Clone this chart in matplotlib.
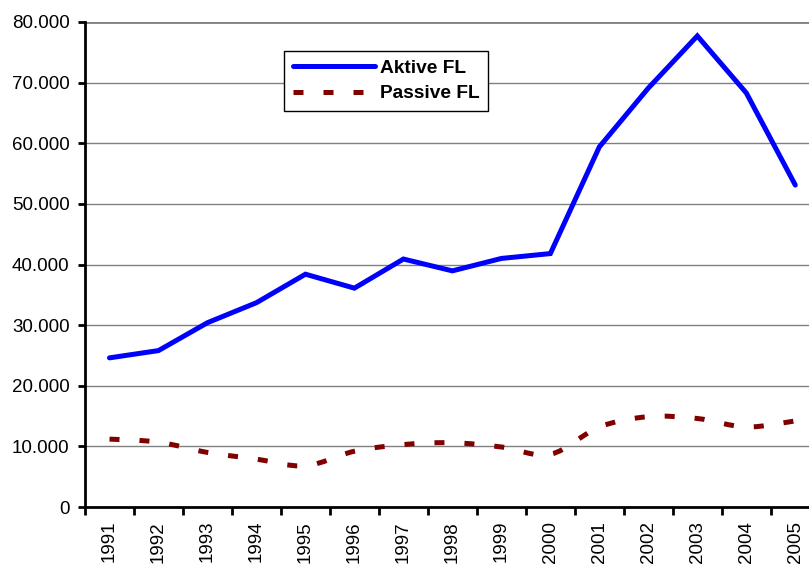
"""Aktive und passive FL, 1991-2005."""
import numpy as np
import matplotlib
matplotlib.use('Agg')
import matplotlib.pyplot as plt
from matplotlib.path import Path
from matplotlib.patches import PathPatch
from matplotlib.lines import Line2D
from matplotlib.ticker import FuncFormatter, FixedLocator


years = ['1991', '1992', '1993', '1994', '1995', '1996', '1997', '1998',
         '1999', '2000', '2001', '2002', '2003', '2004', '2005']
aktive = [24600, 25800, 30400, 33700, 38400, 36100, 40900, 38950,
          41000, 41800, 59400, 69100, 77700, 68300, 53100]
passive = [11200, 10700, 9000, 7900, 6800, 9200, 10300, 10600,
           9900, 8700, 13200, 14900, 14600, 13200, 14200]


def smooth_path(xs, ys):
    """Bezier path through the points, like Excel's smoothed line."""
    pts = np.column_stack([xs, ys]).astype(float)
    n = len(pts)
    verts = [pts[0]]
    codes = [Path.MOVETO]
    for i in range(n - 1):
        p0 = pts[max(i - 1, 0)]
        p1 = pts[i]
        p2 = pts[i + 1]
        p3 = pts[min(i + 2, n - 1)]
        verts += [p1 + (p2 - p0) / 6, p2 - (p3 - p1) / 6, p2]
        codes += [Path.CURVE4] * 3
    return Path(verts, codes)


plt.rcParams['font.family'] = ['Liberation Sans', 'DejaVu Sans']

fig = plt.figure(figsize=(8.09, 5.66), dpi=100)
ax = fig.add_axes([85 / 809, 1 - 507 / 566, 724 / 809, 485 / 566])

x = np.arange(len(years))
blue = '#0000FF'
red = '#800000'
lw = 3.6
fs = 13.5

line_a, = ax.plot(x, aktive, color=blue, lw=lw, solid_joinstyle='miter',
                  solid_capstyle='round', label='Aktive FL', zorder=3)
patch = PathPatch(smooth_path(x, passive), fill=False, edgecolor=red, lw=lw,
                  linestyle=(0, (2, 4)), capstyle='butt', zorder=3)
ax.add_patch(patch)
proxy_p = Line2D([], [], color=red, lw=lw, linestyle=(0, (2, 4)),
                 dash_capstyle='butt', label='Passive FL')

ax.set_xlim(-0.5, 14.28)
ax.set_ylim(0, 80000)
ax.set_yticks(np.arange(0, 80001, 10000))
ax.yaxis.set_major_formatter(
    FuncFormatter(lambda v, p: '{:,.0f}'.format(v).replace(',', '.')))
ax.grid(axis='y', color='#808080', lw=1.0)
ax.set_axisbelow(True)

# ticks between categories, labels at centres
ax.xaxis.set_major_locator(FixedLocator(np.arange(-0.5, 15, 1.0)))
ax.xaxis.set_minor_locator(FixedLocator(x))
ax.set_xticklabels([], minor=False)
ax.set_xticklabels(years, minor=True, rotation=90, fontsize=fs)
ax.tick_params(axis='x', which='major', length=5.5, width=2, direction='out')
ax.tick_params(axis='x', which='minor', length=0, pad=10)
ax.tick_params(axis='y', length=5, width=2, direction='out', labelsize=fs,
               pad=6)

for s in ['top', 'right']:
    ax.spines[s].set_visible(False)
for s in ['left', 'bottom']:
    ax.spines[s].set_linewidth(2)
ax.axhline(80000, color='#808080', lw=2, zorder=1)

leg = ax.legend(handles=[line_a, proxy_p], loc='upper left',
                bbox_to_anchor=(0.275, 0.94), frameon=True, fancybox=False,
                edgecolor='black', framealpha=1, handlelength=4.3,
                handletextpad=0.25, borderpad=0.45, labelspacing=0.4,
                borderaxespad=0, prop={'weight': 'bold', 'size': 13.8})
leg.get_frame().set_linewidth(1.0)

plt.savefig('out.png', dpi=100)
plt.close()
